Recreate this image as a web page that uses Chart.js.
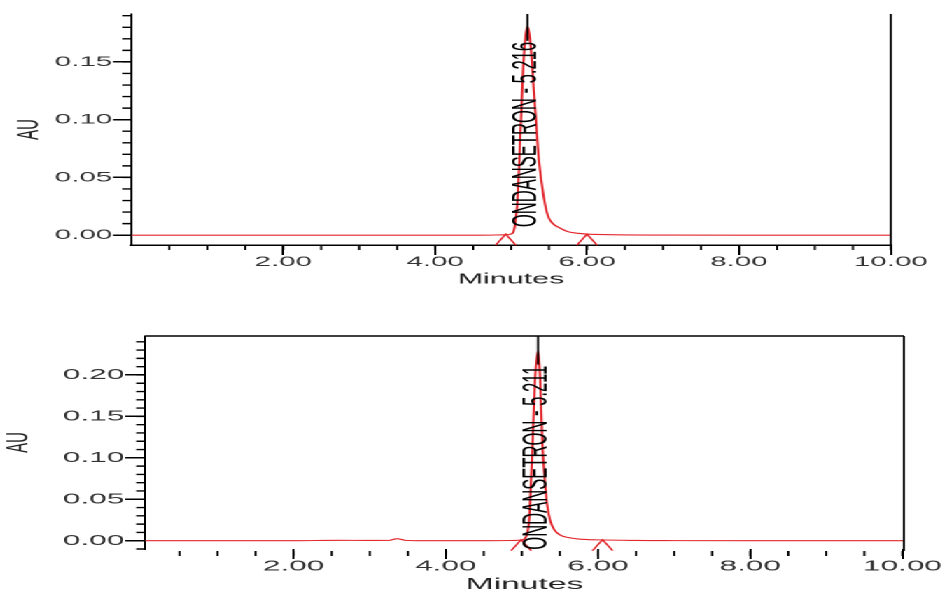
<!DOCTYPE html>
<html>
<head>
<meta charset="utf-8">
<script src="https://cdn.jsdelivr.net/npm/chart.js@4.4.1/dist/chart.umd.min.js"></script>
<style>
  html, body { margin: 0; padding: 0; background: #fff; overflow: hidden; }
  /* the source figure is a scan stretched ~2.1x horizontally */
  #wrap { position: absolute; left: 0; top: 0; width: 449.52px; height: 592px; transform: scaleX(2.1); transform-origin: 0 0; }
  .box { position: relative; width: 100%; height: 296px; }
</style>
</head>
<body>
<div id="wrap">
  <div class="box"><canvas id="runTop"></canvas></div>
  <div class="box"><canvas id="runBottom"></canvas></div>
</div>
<script>
// tick labels
const xTicks = [2, 4, 6, 8, 10];
const xTickLabels = ['2.00', '4.00', '6.00', '8.00', '10.00'];
const topYTicks = [0, 0.05, 0.10, 0.15];
const topYTickLabels = ['0.00', '0.05', '0.10', '0.15'];
const bottomYTicks = [0, 0.05, 0.10, 0.15, 0.20];
const bottomYTickLabels = ['0.00', '0.05', '0.10', '0.15', '0.20'];

// upper chromatogram (minutes, AU)
const topTime = [0, 1, 2, 3, 4, 4.6, 4.9, 5.0, 5.05, 5.09, 5.125, 5.16, 5.19, 5.216, 5.24, 5.27, 5.30, 5.33, 5.36, 5.41, 5.45, 5.49, 5.55, 5.65, 5.75, 5.9, 6.0, 6.3, 7, 8, 9, 10];
const topAU = [0, 0, 0, 0, 0, 0, 0.0003, 0.001, 0.008, 0.035, 0.09, 0.145, 0.172, 0.181, 0.175, 0.155, 0.125, 0.098, 0.07, 0.042, 0.026, 0.016, 0.010, 0.006, 0.003, 0.0015, 0.001, 0.0004, 0.0001, 0, 0, 0];
const topPeakName = 'ONDANSETRON';
const topPeakRT = 5.216;
const topPeakLimits = [4.93, 6.0];

// lower chromatogram
const bottomTime = [0.05, 1, 2, 2.6, 3.0, 3.25, 3.36, 3.47, 3.7, 4.5, 4.9, 5.0, 5.06, 5.1, 5.14, 5.17, 5.211, 5.24, 5.27, 5.30, 5.33, 5.37, 5.42, 5.5, 5.6, 5.75, 6.0, 6.5, 7, 8, 9, 10.02];
const bottomAU = [0, 0, 0, 0.0005, 0.0003, 0.0004, 0.0025, 0.0004, 0, 0, 0.0003, 0.001, 0.006, 0.03, 0.115, 0.19, 0.229, 0.195, 0.115, 0.075, 0.045, 0.025, 0.014, 0.007, 0.004, 0.002, 0.001, 0.0003, 0.0001, 0, 0, 0];
const bottomPeakName = 'ONDANSETRON';
const bottomPeakRT = 5.211;
const bottomPeakLimits = [4.99, 6.06];

const RED = '#e2262c';
const INK = '#000';
const GREY = '#333';
const SANS = "'Liberation Sans', Arial, sans-serif";

function drawChart(id, time, au, peakName, peakRT, limits, yTicks, yTickLabels, g) {
  const marks = {
    id: 'marks',
    afterDatasetsDraw(chart) {
      const { ctx, chartArea: a, scales: { x, y } } = chart;
      const y0 = y.getPixelForValue(0);
      ctx.save();

      // frame
      ctx.strokeStyle = INK;
      ctx.lineWidth = 1;
      ctx.beginPath();
      ctx.moveTo(a.right, a.top);
      ctx.lineTo(a.right, a.bottom + g.rightExtra);
      ctx.stroke();
      if (g.topBorder) {
        ctx.lineWidth = 1.4;
        ctx.beginPath();
        ctx.moveTo(a.left, a.top);
        ctx.lineTo(a.right, a.top);
        ctx.stroke();
      }

      // minor ticks
      ctx.lineWidth = 1.4;
      ctx.beginPath();
      for (let i = Math.ceil(y.min * 100 - 1e-9); i <= Math.floor(y.max * 100 + 1e-9); i++) {
        const py = y.getPixelForValue(i / 100);
        ctx.moveTo(a.left - g.yMinor, py);
        ctx.lineTo(a.left, py);
      }
      ctx.stroke();
      ctx.lineWidth = 1;
      ctx.beginPath();
      for (let j = Math.ceil(x.min * 2 - 1e-9); j <= Math.floor(x.max * 2 + 1e-9); j++) {
        if (j === 0) continue;
        const px = x.getPixelForValue(j / 2);
        ctx.moveTo(px, a.bottom + g.xMinorStart);
        ctx.lineTo(px, a.bottom + g.xMinorStart + 5);
      }
      ctx.stroke();

      // peak start / end marks
      ctx.strokeStyle = RED;
      ctx.lineWidth = 1;
      limits.forEach(t => {
        const px = x.getPixelForValue(t);
        ctx.beginPath();
        ctx.moveTo(px - 4.8, y0 + 10);
        ctx.lineTo(px, y0 - 1);
        ctx.lineTo(px + 4.8, y0 + 10);
        ctx.stroke();
      });

      // peak label
      const px = x.getPixelForValue(peakRT);
      const text = peakName + ' - ' + peakRT.toFixed(3);
      ctx.font = g.labelSize + 'px ' + SANS;
      const w = ctx.measureText(text).width;
      const start = y0 + g.labelStart;
      ctx.strokeStyle = INK;
      ctx.lineWidth = 1;
      ctx.beginPath();
      ctx.moveTo(px, a.top);
      ctx.lineTo(px, start - w - 1);
      ctx.stroke();
      ctx.translate(px - 0.6, start);
      ctx.rotate(-Math.PI / 2);
      ctx.fillStyle = INK;
      ctx.textAlign = 'left';
      ctx.textBaseline = 'middle';
      ctx.fillText(text, 0, 0);
      ctx.restore();
    }
  };

  new Chart(document.getElementById(id), {
    type: 'line',
    data: {
      datasets: [{
        data: time.map((t, i) => ({ x: t, y: au[i] })),
        borderColor: RED,
        borderWidth: 1.1,
        pointRadius: 0,
        cubicInterpolationMode: 'monotone',
        fill: false
      }]
    },
    options: {
      responsive: true,
      maintainAspectRatio: false,
      animation: false,
      devicePixelRatio: 2,
      events: [],
      layout: { padding: { left: 0, top: g.padTop, right: g.padRight, bottom: 0 } },
      plugins: { legend: { display: false }, tooltip: { enabled: false } },
      scales: {
        x: {
          type: 'linear',
          min: g.xMin,
          max: g.xMax,
          afterBuildTicks: s => { s.ticks = xTicks.map(v => ({ value: v })); },
          afterFit: s => { s.height = g.xHeight; },
          border: { display: g.xBorder, color: INK, width: 1.5 },
          grid: { drawOnChartArea: false, color: INK, lineWidth: 1, tickLength: 10 },
          ticks: {
            padding: 0, color: GREY, maxRotation: 0, autoSkip: false,
            font: { family: SANS, size: g.xFont, lineHeight: 1 },
            callback: (v, i) => xTickLabels[i]
          },
          title: {
            display: true, text: 'Minutes', color: '#222',
            font: { family: SANS, size: g.xTitleFont, lineHeight: g.xTitleLH },
            padding: { top: 0, bottom: g.xTitlePad }
          }
        },
        y: {
          min: g.yMin,
          max: g.yMax,
          afterBuildTicks: s => { s.ticks = yTicks.map(v => ({ value: v })); },
          afterFit: s => { s.width = g.yWidth; },
          border: { display: true, color: INK, width: 1 },
          grid: { drawOnChartArea: false, color: INK, lineWidth: 1.5, tickLength: g.yMajor },
          ticks: {
            padding: 0.5, color: GREY, autoSkip: false,
            font: { family: SANS, size: g.yFont },
            callback: (v, i) => yTickLabels[i]
          },
          title: {
            display: true, text: 'AU', color: '#222',
            font: { family: SANS, size: 15 },
            padding: { top: g.yTitlePad, bottom: 0 }
          }
        }
      }
    },
    plugins: [marks]
  });
}

drawChart('runTop', topTime, topAU, topPeakName, topPeakRT, topPeakLimits, topYTicks, topYTickLabels, {
  padTop: 14, padRight: 25.71, yWidth: 62.38, xHeight: 51,
  xMin: 0, xMax: 10, yMin: -0.0085, yMax: 0.1915,
  xBorder: true, topBorder: false, rightExtra: 0,
  yMajor: 8.6, yMinor: 4.3, xMinorStart: 0,
  xFont: 14, yFont: 14, xTitleFont: 14.5, xTitleLH: 1.2, xTitlePad: 7.6, yTitlePad: 5,
  labelSize: 16.6, labelStart: -8
});

drawChart('runBottom', bottomTime, bottomAU, bottomPeakName, bottomPeakRT, bottomPeakLimits, bottomYTicks, bottomYTickLabels, {
  padTop: 40, padRight: 19.52, yWidth: 69.05, xHeight: 43,
  xMin: 0.05, xMax: 10.02, yMin: -0.01, yMax: 0.247,
  xBorder: false, topBorder: true, rightExtra: 2,
  yMajor: 9.5, yMinor: 4.3, xMinorStart: 2,
  xFont: 15, yFont: 15, xTitleFont: 16, xTitleLH: 0.9, xTitlePad: 0, yTitlePad: 0,
  labelSize: 16.6, labelStart: 9
});
</script>
</body>
</html>
